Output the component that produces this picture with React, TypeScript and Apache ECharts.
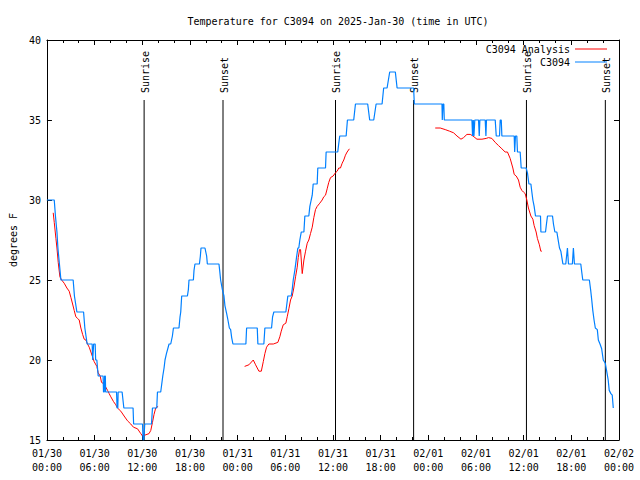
import React, { useEffect, useRef } from 'react';
import * as echarts from 'echarts';

const TITLE = 'Temperature for C3094 on 2025-Jan-30 (time in UTC)';
const STATION = 'C3094';
const ANALYSIS = 'C3094 Analysis';
const Y_NAME = 'degrees F';

// x values: hours since 2025-01-30 00:00 UTC
const dayLabels = ['01/30', '01/31', '02/01', '02/02'];
const timeLabels = ['00:00', '06:00', '12:00', '18:00'];

const observed: [number, number][] = [
  [0.00,30],[0.92,30],[1.07,29],[1.26,28],[1.38,27],[1.57,26],[1.76,25],[3.30,25],[3.46,24],[3.77,23],
  [4.61,23],[4.77,22],[5.06,21],[5.69,21],[5.76,20],[5.82,20],[5.88,21],[6.07,21],[6.13,20],[6.28,20],
  [6.45,19],[7.07,19],[7.12,18],[7.22,18],[7.26,19],[7.35,19],[7.39,18],[8.76,18],[8.83,17],[8.92,17],
  [8.96,18],[9.46,18],[9.68,17],[10.84,17],[10.91,16],[12.03,16],[12.10,15],[12.19,15],[12.31,16],[13.16,16],
  [13.28,17],[13.82,17],[13.91,18],[14.32,18],[14.45,18.5],[14.58,19],[14.74,19.5],[14.86,20],[15.04,20.4],[15.37,21],
  [15.58,21],[15.79,21.5],[15.92,22],[16.62,22],[16.75,22.7],[16.84,23],[16.96,24],[17.68,24],[17.80,24.4],[17.88,25],
  [18.43,25],[18.51,25.6],[18.63,26],[19.19,26],[19.31,26.5],[19.39,27],[19.89,27],[20.10,26.5],[20.19,26],[21.65,26],
  [21.74,25.6],[21.86,25],[22.08,24.4],[22.28,24],[22.40,23.4],[22.62,22.9],[22.78,22.5],[22.96,22],[23.12,21.9],[23.25,21.4],
  [23.41,21],[25.04,21],[25.13,22],[26.47,22],[26.55,21],[27.30,21],[27.43,22],[28.27,22],[28.40,22.7],[28.56,23],
  [30.07,23],[30.32,24],[30.75,24],[30.87,24.4],[31.00,25],[31.20,25.6],[31.41,26.4],[31.58,27],[31.70,27],[31.83,27.5],
  [32.01,28],[32.34,28],[32.46,29],[32.96,29],[33.09,29.6],[33.26,30],[33.39,30.3],[33.51,31],[34.01,31],[34.09,32],
  [35.06,32],[35.14,33],[36.60,33],[36.72,33.5],[36.85,34],[37.66,34],[37.82,35],[38.61,35],[38.83,36],[40.37,36],
  [40.62,35],[41.13,35],[41.43,36],[42.18,36],[42.38,37],[42.81,37],[43.14,38],[43.85,38],[44.07,37],[46.15,37],
  [46.24,36],[49.72,36],[49.76,35],[49.84,36],[49.95,36],[50.01,35],[53.49,35],[53.57,34],[53.66,35],[53.74,34],
  [53.85,35],[54.32,35],[54.41,34],[54.49,35],[55.16,35],[55.25,34],[55.32,35],[56.42,35],[56.55,34],[56.96,34],
  [57.05,35],[57.18,35],[57.26,34],[58.81,34],[58.87,33],[58.97,34],[59.14,34],[59.22,33],[59.56,33],[59.69,32],
  [60.31,32],[60.48,31.7],[60.66,31],[60.91,31],[61.03,30.5],[61.16,30],[61.32,29.6],[61.49,29],[62.12,29],[62.17,28],
  [62.75,28],[62.87,28.5],[63.00,29],[63.63,29],[63.75,28.5],[63.93,28],[64.18,28],[64.31,27.6],[64.51,27],[64.68,26.8],
  [64.81,26.4],[64.94,26],[65.30,26],[65.51,27],[65.64,26],[66.13,26],[66.26,27],[66.39,26],[67.19,26],[67.31,25.5],
  [67.44,25],[68.27,25],[68.45,24.3],[68.57,23.75],[68.70,23.1],[68.86,22.5],[69.02,22],[69.27,21.9],[69.40,21.25],[69.61,21],
  [69.82,20.7],[70.02,20],[70.27,19.8],[70.45,19.3],[70.64,18.75],[70.77,18.1],[70.98,17.9],[71.15,17.8],[71.28,17],
];

const analysisNight1: [number, number][] = [
  [0.79,29.2],[0.92,28.6],[1.13,27.6],[1.26,27],[1.42,26.1],[1.63,25.2],[1.85,25],[2.17,24.8],[2.51,24.5],[2.80,24.3],
  [3.02,23.9],[3.23,23.5],[3.43,23.1],[3.64,22.7],[3.86,22.6],[4.06,22.5],[4.27,22],[4.49,21.6],[4.69,21.3],[4.90,21.25],
  [5.11,21],[5.32,20.8],[5.53,20.5],[5.74,20.2],[5.94,19.9],[6.28,19.6],[6.45,19.2],[6.70,19],[6.87,18.6],[7.20,18.5],
  [7.41,18.3],[7.63,18.1],[7.83,17.9],[8.04,17.7],[8.38,17.4],[8.67,17.2],[8.88,17.0],[9.30,16.8],[9.71,16.5],[10.14,16.2],
  [10.55,16.0],[10.89,15.8],[11.40,15.7],[11.81,15.4],[12.03,15.25],[12.31,15.3],[12.85,15.4],[13.07,15.6],[13.28,16.1],[13.48,16.6],
  [13.69,17],[13.99,17.1],
];

const analysisDay2: [number, number][] = [
  [24.88,19.6],[25.42,19.7],[25.97,20.0],[26.26,19.7],[26.68,19.3],[26.98,19.3],[27.23,19.9],[27.43,20.4],[27.64,20.8],[27.93,21],
  [28.49,21],[29.06,21.1],[29.31,21.45],[29.49,21.8],[29.74,22.2],[30.07,22.3],[30.24,22.7],[30.45,23.2],[30.66,23.75],[30.87,24],
  [31.07,24.5],[31.29,25.2],[31.50,25.8],[31.63,26.4],[31.79,26.9],[31.92,26.9],[32.13,25.4],[32.34,26.25],[32.55,26.8],[32.76,27.3],
  [32.96,27.5],[33.17,27.9],[33.39,28.3],[33.59,28.9],[33.80,29.4],[34.01,29.6],[34.34,29.8],[34.64,30],[34.84,30.2],[35.06,30.3],
  [35.27,30.7],[35.47,31.1],[35.69,31.4],[36.02,31.5],[36.31,31.7],[36.53,31.8],[36.73,32],[36.94,32.0],[37.16,32.3],[37.36,32.5],
  [37.57,32.8],[37.78,33.0],[38.07,33.2],
];

const analysisDay3: [number, number][] = [
  [48.87,34.5],[49.50,34.5],[50.13,34.4],[50.68,34.3],[51.18,34.2],[51.61,34.0],[52.11,33.8],[52.44,33.9],[52.86,34.1],[53.28,34.1],
  [53.62,34.0],[54.12,33.8],[54.75,33.8],[55.29,33.85],[55.58,33.9],[56.00,33.85],[56.42,33.6],[56.84,33.4],[57.26,33.2],[57.67,33.0],
  [57.96,33.0],[58.30,32.6],[58.64,32.0],[58.81,31.6],[59.06,31.5],[59.35,31.25],[59.56,30.8],[59.77,30.6],[59.97,30.5],[60.19,30.4],
  [60.40,30.0],[60.60,29.5],[60.91,29.0],[61.16,28.8],[61.32,28.4],[61.57,28.0],[61.73,27.6],[61.98,27.2],[62.16,26.8],[62.28,26.8],
];

const sunTimes = [12.23, 22.16, 36.32, 46.15, 60.35, 70.28];
const sunNames = ['Sunrise', 'Sunset', 'Sunrise', 'Sunset', 'Sunrise', 'Sunset'];

const X_MIN = 0;
const X_MAX = 72;
const X_STEP = 6;
const Y_MIN = 15;
const Y_MAX = 40;
const Y_STEP = 5;
const SUN_LINE_TOP = 36.25;

const FONT = '"DejaVu Sans Mono", "Liberation Mono", monospace';
const BLUE = '#0080ff';
const RED = '#ff0000';

export default function App() {
  const ref = useRef<HTMLDivElement>(null);

  useEffect(() => {
    if (!ref.current) return;
    const chart = echarts.init(ref.current, null, { renderer: 'svg' });

    const analysisData: any[] = [
      ...analysisNight1,
      [(analysisNight1[analysisNight1.length - 1][0] + analysisDay2[0][0]) / 2, '-'],
      ...analysisDay2,
      [(analysisDay2[analysisDay2.length - 1][0] + analysisDay3[0][0]) / 2, '-'],
      ...analysisDay3,
    ];

    const tickLabel = (v: number) => {
      const i = Math.round(v / X_STEP);
      return dayLabels[Math.floor(i / 4)] + '\n' + timeLabels[i % 4];
    };

    const axisLine = { show: true, onZero: false, lineStyle: { color: '#000', width: 1 } };
    const axisTick = { show: true, inside: true, length: 5, lineStyle: { color: '#000', width: 1 } };
    const xMinor = { show: true, splitNumber: 3, length: 3, lineStyle: { color: '#000', width: 1 } };

    chart.setOption({
      animation: false,
      backgroundColor: '#ffffff',
      title: {
        text: TITLE,
        left: 333,
        top: 11,
        textAlign: 'center',
        textStyle: { fontFamily: FONT, fontSize: 10, fontWeight: 'normal', color: '#000' },
      },
      legend: {
        data: [ANALYSIS, STATION],
        orient: 'vertical',
        right: 28,
        top: 39,
        align: 'right',
        icon: 'rect',
        itemWidth: 32,
        itemHeight: 1,
        itemGap: 3,
        selectedMode: false,
        textStyle: { fontFamily: FONT, fontSize: 10, color: '#000' },
      },
      grid: { left: 46, top: 40, width: 573, height: 400 },
      xAxis: [
        {
          type: 'value', min: X_MIN, max: X_MAX, interval: X_STEP,
          axisLine, axisTick, minorTick: xMinor,
          splitLine: { show: false },
          axisLabel: {
            formatter: tickLabel, fontFamily: FONT, fontSize: 10, color: '#000',
            lineHeight: 14, margin: 6, showMinLabel: true, showMaxLabel: true,
          },
        },
        {
          type: 'value', position: 'top', min: X_MIN, max: X_MAX, interval: X_STEP,
          axisLine, axisTick, minorTick: xMinor,
          splitLine: { show: false }, axisLabel: { show: false },
        },
      ],
      yAxis: [
        {
          type: 'value', min: Y_MIN, max: Y_MAX, interval: Y_STEP,
          name: Y_NAME, nameLocation: 'middle', nameRotate: 90, nameGap: 28,
          nameTextStyle: { fontFamily: FONT, fontSize: 10, color: '#000' },
          axisLine, axisTick,
          splitLine: { show: false },
          axisLabel: { fontFamily: FONT, fontSize: 10, color: '#000', margin: 6 },
        },
        {
          type: 'value', position: 'right', min: Y_MIN, max: Y_MAX, interval: Y_STEP,
          axisLine, axisTick,
          splitLine: { show: false }, axisLabel: { show: false },
        },
      ],
      series: [
        {
          type: 'custom',
          name: 'sun',
          silent: true,
          clip: false,
          data: sunTimes.map((t, i) => [t, i]),
          renderItem: (params: any, api: any) => {
            const t = api.value(0);
            const idx = api.value(1);
            const top = api.coord([t, SUN_LINE_TOP]);
            const bot = api.coord([t, Y_MIN]);
            return {
              type: 'group',
              children: [
                {
                  type: 'line',
                  shape: { x1: top[0], y1: top[1], x2: bot[0], y2: bot[1] },
                  style: { stroke: '#000', lineWidth: 1 },
                },
                {
                  type: 'text',
                  x: top[0] + 1,
                  y: top[1] - 7,
                  rotation: Math.PI / 2,
                  style: {
                    text: sunNames[idx],
                    fill: '#000',
                    font: '10px ' + FONT,
                    align: 'left',
                    verticalAlign: 'middle',
                  },
                },
              ],
            };
          },
        },
        {
          name: ANALYSIS,
          type: 'line',
          data: analysisData,
          symbol: 'none',
          showSymbol: false,
          connectNulls: false,
          lineStyle: { color: RED, width: 1 },
          itemStyle: { color: RED },
        },
        {
          name: STATION,
          type: 'line',
          data: observed,
          symbol: 'none',
          showSymbol: false,
          lineStyle: { color: BLUE, width: 1.2 },
          itemStyle: { color: BLUE },
        },
      ],
    });

    return () => chart.dispose();
  }, []);

  return (
    <div
      ref={ref}
      style={{ position: 'fixed', left: 0, top: 0, width: 640, height: 480, background: '#fff' }}
    />
  );
}
